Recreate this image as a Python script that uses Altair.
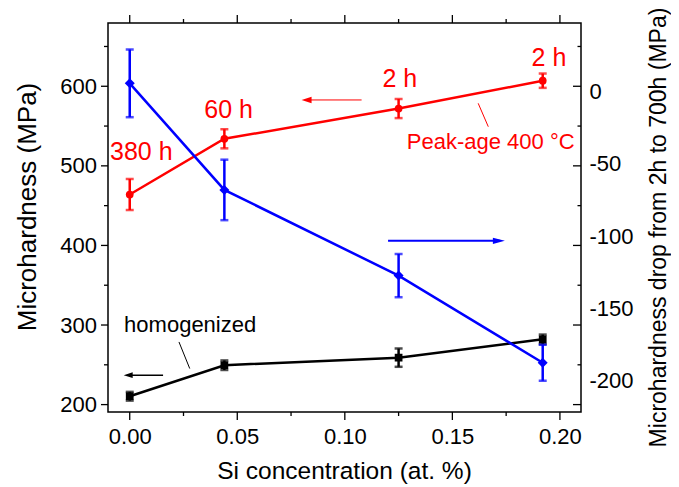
import altair as alt
import pandas as pd

# ---------------- data ----------------
si = [0.0, 0.044, 0.125, 0.192]                 # Si concentration (at. %)
peak_hv = [464, 534, 572, 607]                  # Peak-age 400 C microhardness (MPa)
peak_err = [19.5, 12, 12, 9]
homog_hv = [210.5, 249.5, 259, 282]             # homogenized microhardness (MPa)
homog_err = [5.5, 6, 11.5, 6]
drop = [6, -68, -127.5, -188]                   # drop from 2h to 700h (MPa), right axis
drop_err = [23.5, 21, 15, 12.5]

x_major = [0.0, 0.05, 0.10, 0.15, 0.20]
x_minor = [0.025, 0.075, 0.125, 0.175]
yl_major = [200, 300, 400, 500, 600]
yl_minor = [250, 350, 450, 550, 650]
yr_labels = [0, -50, -100, -150, -200]

peak_labels = ["380 h", "60 h", "2 h", "2 h"]

# ---------------- layout / style ----------------
W, H = 473, 389
FONT = "Liberation Sans"
RED, BLUE, BLACK = "#ff0000", "#0000ff", "#000000"

xs = alt.Scale(domain=[-0.0101, 0.2098], nice=False, zero=False)
yl = alt.Scale(domain=[190.7, 679.5], nice=False, zero=False)
yr = alt.Scale(domain=[-222.2, 47.9], nice=False, zero=False)

XA = alt.Axis(values=x_major, format=".2f", ticks=False, tickSize=0, domain=False, grid=False,
              labelFontSize=22, labelFont=FONT, labelColor=BLACK, labelPadding=14,
              labelFlush=False, title="Si concentration (at. %)", titleFont=FONT,
              titleFontSize=24.5, titleFontWeight="normal", titleColor=BLACK,
              titleX=236, titleY=66.5, titleAlign="center", titleBaseline="alphabetic")

YLA = alt.Axis(values=yl_major, ticks=False, tickSize=0, domain=False, grid=False,
               labelFontSize=22, labelFont=FONT, labelColor=BLACK, labelPadding=11.5,
               labelFlush=False, title="Microhardness (MPa)", titleFont=FONT,
               titleFontSize=26, titleFontWeight="normal", titleColor=BLACK,
               titleAngle=270, titleX=-80.5, titleY=183.5, titleAlign="center",
               titleBaseline="middle")

YRA = alt.Axis(orient="right", values=yr_labels, ticks=False, tickSize=0, domain=False,
               grid=False, labelFontSize=22, labelFont=FONT, labelColor=BLACK,
               labelPadding=8, labelFlush=False,
               labelExpr="replace(datum.label, '\u2212', '-')",
               title="Microhardness drop from 2h to 700h (MPa)", titleFont=FONT,
               titleFontSize=23, titleFontWeight="normal", titleColor=BLACK,
               titleAngle=270, titleX=77, titleY=204, titleAlign="center",
               titleBaseline="middle")


def X(field):
    return alt.X(field, scale=xs, axis=XA)


def YL(field):
    return alt.Y(field, scale=yl, axis=YLA)


def YR(field):
    return alt.Y(field, scale=yr, axis=YRA)


def series_df(vals, errs):
    return pd.DataFrame({
        "si": si,
        "v": vals,
        "lo": [v - e for v, e in zip(vals, errs)],
        "hi": [v + e for v, e in zip(vals, errs)],
    })


def series_layers(df, color, shape, size, Y):
    base = alt.Chart(df)
    line = base.mark_line(color=color, strokeWidth=2.5).encode(x=X("si:Q"), y=Y("v:Q"))
    bars = base.mark_rule(color=color, strokeWidth=2.5).encode(
        x=X("si:Q"), y=Y("lo:Q"), y2="hi:Q")
    cap_lo = base.mark_tick(color=color, orient="horizontal", size=8, thickness=2.5).encode(
        x=X("si:Q"), y=Y("lo:Q"))
    cap_hi = base.mark_tick(color=color, orient="horizontal", size=8, thickness=2.5).encode(
        x=X("si:Q"), y=Y("hi:Q"))
    pts = base.mark_point(shape=shape, size=size, filled=True, color=color, opacity=1).encode(
        x=X("si:Q"), y=Y("v:Q"))
    return [line, bars, cap_lo, cap_hi, pts]


def xticks(vals, y0, y1):
    return alt.Chart(pd.DataFrame({"t": vals})).mark_rule(color=BLACK, strokeWidth=1.3).encode(
        x=X("t:Q"), y=alt.value(y0), y2=alt.value(y1))


def yticks(vals, x0, x1):
    return alt.Chart(pd.DataFrame({"t": vals})).mark_rule(color=BLACK, strokeWidth=1.3).encode(
        y=YL("t:Q"), x=alt.value(x0), x2=alt.value(x1))


def label(text, x, y, color, size):
    return alt.Chart(pd.DataFrame({"x": [x], "y": [y], "t": [text]})).mark_text(
        color=color, fontSize=size, font=FONT, align="center", baseline="middle").encode(
        x=X("x:Q"), y=YL("y:Q"), text="t:N")


def seg(x1, y1, x2, y2, color, w):
    return alt.Chart(pd.DataFrame({"x": [x1], "y": [y1], "x2": [x2], "y2": [y2]})).mark_rule(
        color=color, strokeWidth=w).encode(x=X("x:Q"), y=YL("y:Q"), x2="x2:Q", y2="y2:Q")


def head(x, y, shape, size, color):
    return alt.Chart(pd.DataFrame({"x": [x], "y": [y]})).mark_point(
        shape=shape, size=size, filled=True, color=color, opacity=1, strokeWidth=0).encode(
        x=X("x:Q"), y=YL("y:Q"))


LEFT_HEAD = "M0,0 L1,-0.32 L1,0.32 Z"
RIGHT_HEAD = "M0,0 L-1,-0.26 L-1,0.26 Z"

left_layers = []
left_layers += series_layers(series_df(peak_hv, peak_err), RED, "circle", 60, YL)
left_layers += series_layers(series_df(homog_hv, homog_err), BLACK, "square", 60, YL)

# frame ticks
left_layers += [
    xticks(x_major, H, H + 8), xticks(x_minor, H, H + 4),
    xticks(x_major, 0, -8), xticks(x_minor, 0, -4),
    yticks(yl_major, 0, -7), yticks(yl_minor, 0, -4),
    yticks(yl_major, W, W - 8), yticks(yl_minor, W, W - 3.5),
]

# annotations
left_layers += [
    label(peak_labels[0], 0.0054, 517.4, RED, 25),
    label(peak_labels[1], 0.046, 569.8, RED, 25),
    label(peak_labels[2], 0.1256, 609.7, RED, 25),
    label(peak_labels[3], 0.1949, 636.0, RED, 25),
    label("Peak-age 400 °C", 0.1678, 530.0, RED, 22),
    label("homogenized", 0.0281, 299.6, BLACK, 22),
    seg(0.162, 578.6, 0.1667, 549.2, RED, 1),
    seg(0.0229, 278.7, 0.0279, 245.3, BLACK, 1),
    seg(0.1078, 582.8, 0.0820, 582.8, RED, 1),
    head(0.0799, 582.8, LEFT_HEAD, 400, RED),
    seg(0.0155, 236.9, -0.0005, 236.9, BLACK, 1.3),
    head(-0.0028, 236.9, LEFT_HEAD, 324, BLACK),
    seg(0.1201, 405.8, 0.1720, 405.8, BLUE, 2),
    head(0.1744, 405.8, RIGHT_HEAD, 576, BLUE),
]

right_layers = series_layers(series_df(drop, drop_err), BLUE, "diamond", 100, YR)

left = alt.layer(*left_layers)
right = alt.layer(*right_layers)

chart = alt.layer(left, right).resolve_scale(y="independent").properties(
    width=W, height=H,
    autosize=alt.AutoSizeParams(type="none"),
    padding={"left": 100, "top": 15, "right": 90, "bottom": 72},
).configure(background="white", font=FONT).configure_view(stroke=BLACK, strokeWidth=1.5)

chart.save("out.html", embed_options={"renderer": "svg", "actions": False})
